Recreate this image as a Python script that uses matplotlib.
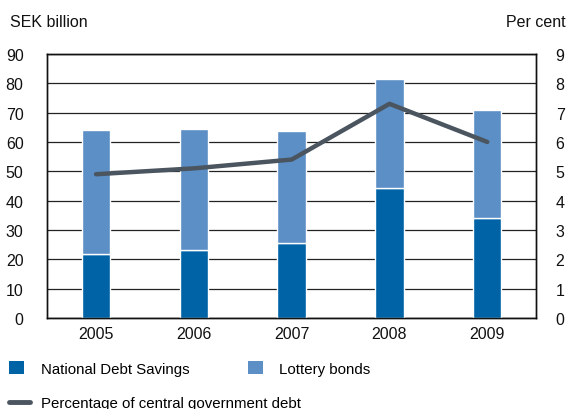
import matplotlib
matplotlib.use("Agg")
import matplotlib.pyplot as plt
from matplotlib.patches import Patch
from matplotlib.lines import Line2D

plt.rcParams['font.family'] = ['Liberation Sans', 'DejaVu Sans']

years = ["2005", "2006", "2007", "2008", "2009"]
national_debt_savings = [21.8, 23.3, 25.5, 44.3, 34.1]
lottery_bonds = [42.3, 41.0, 38.2, 37.2, 36.9]
pct_of_debt = [4.9, 5.1, 5.4, 7.3, 6.0]

dark_blue = "#0063a6"
light_blue = "#5b8fc5"
line_grey = "#4a5560"

fig = plt.figure(figsize=(5.68, 4.10), dpi=100)
ax = fig.add_axes([0.083, 0.222, 0.861, 0.644])
ax2 = ax.twinx()

x = range(len(years))
ax.bar(x, national_debt_savings, width=0.29, color=dark_blue,
       edgecolor="white", linewidth=1.0, zorder=3)
ax.bar(x, lottery_bonds, width=0.29, bottom=national_debt_savings,
       color=light_blue, edgecolor="white", linewidth=1.0, zorder=3)

ax.set_ylim(0, 90)
ax.set_xlim(-0.5, 4.5)
ax.set_yticks(range(0, 91, 10))
ax.set_xticks(list(x))
ax.set_xticklabels(years)
ax.yaxis.grid(True, color="#222222", linewidth=0.9, zorder=0)
ax.set_axisbelow(True)
ax.tick_params(length=0, labelsize=11.5, colors="#111111", pad=6)
ax.tick_params(axis="y", pad=17)

ax2.plot(list(x), pct_of_debt, color=line_grey, linewidth=3.2,
         solid_capstyle="round", solid_joinstyle="round", zorder=4)
ax2.set_ylim(0, 9)
ax2.set_yticks(range(0, 10))
ax2.tick_params(length=0, labelsize=11.5, colors="#111111", pad=14)

for a in (ax, ax2):
    for s in a.spines.values():
        s.set_color("#111111")
        s.set_linewidth(1.0)

fig.text(0.018, 0.945, "SEK billion", fontsize=11.5, va="center", ha="left", color="#111111")
fig.text(0.995, 0.945, "Per cent", fontsize=11.5, va="center", ha="right", color="#111111")

handles1 = [Patch(facecolor=dark_blue, edgecolor="none"),
            Patch(facecolor=light_blue, edgecolor="none")]
fig.legend(handles1, ["National Debt Savings", "Lottery bonds"],
           loc="center left", bbox_to_anchor=(0.016, 0.099), ncol=2,
           frameon=False, fontsize=10.8, handlelength=1.0, handleheight=1.0,
           handletextpad=1.1, columnspacing=3.9, borderaxespad=0,
           borderpad=0)
fig.legend([Line2D([0], [0], color=line_grey, linewidth=3.5, solid_capstyle="round")],
           ["Percentage of central government debt"],
           loc="center left", bbox_to_anchor=(0.016, 0.014),
           frameon=False, fontsize=10.8, handlelength=1.4,
           handletextpad=0.7, borderaxespad=0, borderpad=0)

fig.savefig("out.png", dpi=100)
